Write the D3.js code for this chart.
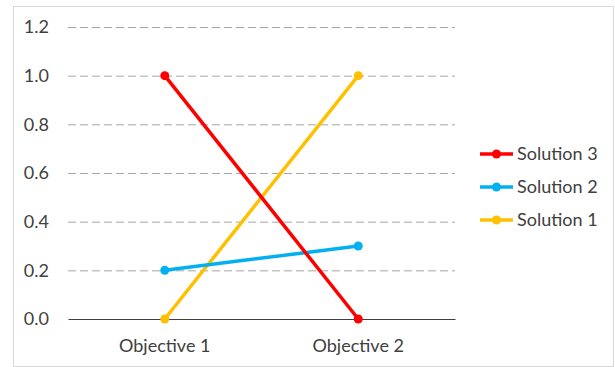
<!DOCTYPE html>
<html>
<head>
<meta charset="utf-8">
<script src="https://cdn.jsdelivr.net/npm/d3@7"></script>
<style>
  html, body { margin: 0; padding: 0; background: #fff; }
  svg { display: block; font-family: Lato, "Open Sans", sans-serif; }
</style>
</head>
<body>
<svg id="chart" width="615" height="367"></svg>
<script>
// Objectives on the x axis
const categories = ["Objective 1", "Objective 2"];
// Normalised scores per solution
const solution1 = [0.0, 1.0];
const solution2 = [0.2, 0.3];
const solution3 = [1.0, 0.0];
const seriesNames = ["Solution 3", "Solution 2", "Solution 1"];
const seriesColors = ["#FF0000", "#00B0F0", "#FFC000"];
const yTicks = [0.0, 0.2, 0.4, 0.6, 0.8, 1.0, 1.2];

const series = [
  { name: seriesNames[2], values: solution1, color: seriesColors[2] },
  { name: seriesNames[1], values: solution2, color: seriesColors[1] },
  { name: seriesNames[0], values: solution3, color: seriesColors[0] }
];

const fontFamily = "Lato, 'Open Sans', sans-serif";
const fontSize = "18px";

const svg = d3.select("#chart");

// chart frame
svg.append("rect")
  .attr("x", 13.5).attr("y", 6.5)
  .attr("width", 600).attr("height", 360)
  .attr("fill", "#fff").attr("stroke", "#D9D9D9").attr("stroke-width", 1);

const plot = { left: 68, right: 455, top: 27, bottom: 319 };

const x = d3.scaleBand().domain(categories).range([plot.left, plot.right]);
const y = d3.scaleLinear().domain([0, 1.2]).range([plot.bottom, plot.top]);

// horizontal gridlines
const yAxis = d3.axisLeft(y)
  .tickValues(yTicks)
  .tickFormat(d3.format(".1f"))
  .tickSize(-(plot.right - plot.left))
  .tickPadding(19);

const gy = svg.append("g")
  .attr("transform", `translate(${plot.left},0)`)
  .call(yAxis);
gy.select(".domain").remove();
gy.selectAll(".tick line")
  .attr("stroke", "#A6A6A6")
  .attr("stroke-width", 1)
  .attr("stroke-dasharray", "8,4")
  .filter(d => d === 0).remove();
gy.selectAll(".tick text")
  .attr("fill", "#404040")
  .style("font-size", fontSize)
  .style("font-family", fontFamily);

// category axis
const xAxis = d3.axisBottom(x).tickSize(0).tickPadding(20);
const gx = svg.append("g")
  .attr("transform", `translate(0,${y(0)})`)
  .call(xAxis);
gx.select(".domain").attr("stroke", "#404040").attr("stroke-width", 1);
gx.selectAll(".tick text")
  .attr("fill", "#404040")
  .style("font-size", fontSize)
  .style("font-family", fontFamily);

const cx = d => x(d) + x.bandwidth() / 2;

const line = d3.line()
  .x((d, i) => cx(categories[i]))
  .y(d => y(d));

const sg = svg.append("g").selectAll("g").data(series).join("g");
sg.append("path")
  .attr("d", d => line(d.values))
  .attr("fill", "none")
  .attr("stroke", d => d.color)
  .attr("stroke-width", 3.5)
  .attr("stroke-linecap", "round");
sg.selectAll("circle")
  .data(d => d.values.map((v, i) => ({ v, i, color: d.color })))
  .join("circle")
  .attr("cx", d => cx(categories[d.i]))
  .attr("cy", d => y(d.v))
  .attr("r", 4.5)
  .attr("fill", d => d.color);

// legend
const legend = svg.append("g");
const legendItems = legend.selectAll("g")
  .data(seriesNames.map((n, i) => ({ name: n, color: seriesColors[i] })))
  .join("g")
  .attr("transform", (d, i) => `translate(480,${154 + i * 33})`);
legendItems.append("line")
  .attr("x1", 0).attr("x2", 33).attr("y1", 0).attr("y2", 0)
  .attr("stroke", d => d.color).attr("stroke-width", 3.5);
legendItems.append("circle")
  .attr("cx", 16.5).attr("cy", 0).attr("r", 4.5)
  .attr("fill", d => d.color);
legendItems.append("text")
  .attr("x", 37).attr("y", 0).attr("dy", "0.35em")
  .attr("fill", "#404040")
  .style("font-size", fontSize)
  .style("font-family", fontFamily)
  .text(d => d.name);
</script>
</body>
</html>
